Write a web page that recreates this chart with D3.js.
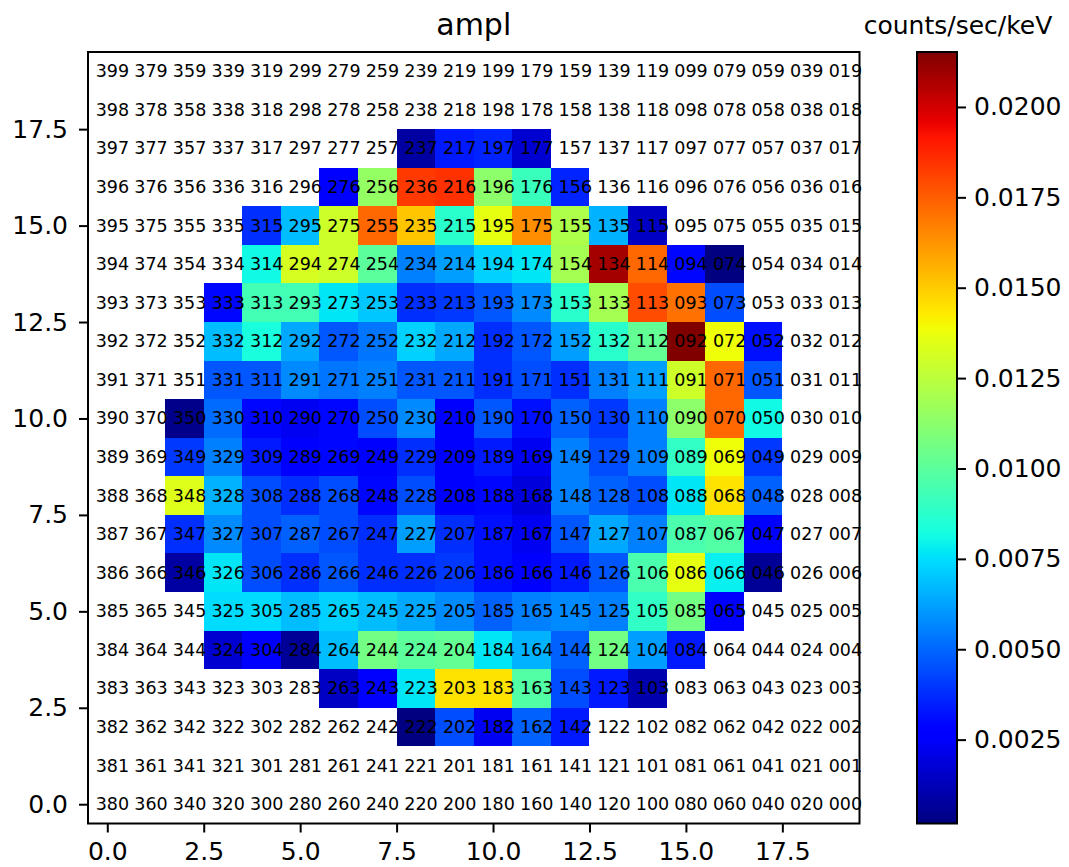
<!DOCTYPE html>
<html>
<head>
<meta charset="utf-8">
<script src="https://cdn.jsdelivr.net/npm/d3@7"></script>
<style>
  body { margin: 0; background: #fff; }
  svg { font-family: "DejaVu Sans", sans-serif; }
</style>
</head>
<body>
<svg id="chart" width="1069" height="867"></svg>
<script>
// pixel grid is 20 x 20, label = (19 - col) * 20 + row
const nPix = 20;

// rows that carry data (top to bottom), first filled column, and values (counts/sec/keV)
const rowIds = [17, 16, 15, 14, 13, 12, 11, 10, 9, 8, 7, 6, 5, 4, 3, 2];
const rowFirstCol = [8, 6, 4, 4, 3, 3, 3, 2, 2, 2, 2, 2, 3, 3, 6, 8];
const rowValues = [
    [0.00082, 0.00338, 0.00359, 0.00167],
    [0.00274, 0.01149, 0.01832, 0.01850, 0.01128, 0.00914, 0.00359],
    [0.00381, 0.00680, 0.01298, 0.01725, 0.01512, 0.00872, 0.01362, 0.01640, 0.01213, 0.00658, 0.00146],
    [0.00808, 0.01320, 0.01298, 0.01000, 0.00552, 0.00616, 0.00722, 0.00765, 0.01192, 0.02085, 0.01725, 0.00295, 0.00018],
    [0.00295, 0.00936, 0.00936, 0.00765, 0.00701, 0.00381, 0.00402, 0.00466, 0.00573, 0.00872, 0.01192, 0.01789, 0.01704, 0.00445],
    [0.00680, 0.00829, 0.00637, 0.00466, 0.00530, 0.00722, 0.00637, 0.00381, 0.00466, 0.00616, 0.00872, 0.01021, 0.02152, 0.01384, 0.00317],
    [0.00466, 0.00466, 0.00573, 0.00530, 0.00552, 0.00466, 0.00466, 0.00381, 0.00445, 0.00381, 0.00552, 0.00616, 0.01298, 0.01725, 0.00466],
    [0.00039, 0.00509, 0.00295, 0.00231, 0.00295, 0.00445, 0.00573, 0.00253, 0.00466, 0.00317, 0.00487, 0.00402, 0.00552, 0.01128, 0.01725, 0.00808],
    [0.00402, 0.00552, 0.00338, 0.00253, 0.00295, 0.00253, 0.00381, 0.00274, 0.00338, 0.00231, 0.00552, 0.00445, 0.00552, 0.00893, 0.01384, 0.00402],
    [0.01341, 0.00658, 0.00445, 0.00381, 0.00445, 0.00295, 0.00445, 0.00274, 0.00295, 0.00189, 0.00552, 0.00487, 0.00445, 0.00765, 0.01448, 0.00487],
    [0.00381, 0.00573, 0.00445, 0.00487, 0.00445, 0.00381, 0.00616, 0.00381, 0.00317, 0.00231, 0.00466, 0.00637, 0.00552, 0.00957, 0.00978, 0.00253],
    [0.00082, 0.00765, 0.00445, 0.00381, 0.00466, 0.00381, 0.00381, 0.00402, 0.00317, 0.00274, 0.00338, 0.00466, 0.00957, 0.01362, 0.00786, 0.00061],
    [0.00744, 0.00744, 0.00680, 0.00722, 0.00680, 0.00637, 0.00573, 0.00487, 0.00552, 0.00573, 0.00552, 0.00893, 0.01064, 0.00253],
    [0.00167, 0.00253, 0.00061, 0.00680, 0.01064, 0.01000, 0.01021, 0.00765, 0.00658, 0.00487, 0.01064, 0.00616, 0.00338],
    [0.00146, 0.00274, 0.00765, 0.01448, 0.01448, 0.00978, 0.00445, 0.00338, 0.00103],
    [0.00018, 0.00445, 0.00231, 0.00487, 0.00338]
];

const axisTicks = [0, 2.5, 5, 7.5, 10, 12.5, 15, 17.5];
const cbarTicks = [0.0025, 0.005, 0.0075, 0.01, 0.0125, 0.015, 0.0175, 0.02];

// matplotlib "jet" segment data
const jetR = [[0, 0], [0.35, 0], [0.66, 1], [0.89, 1], [1, 0.5]];
const jetG = [[0, 0], [0.125, 0], [0.375, 1], [0.64, 1], [0.91, 0], [1, 0]];
const jetB = [[0, 0.5], [0.11, 1], [0.34, 1], [0.65, 0], [1, 0]];

const chan = seg => d3.scaleLinear().domain(seg.map(d => d[0])).range(seg.map(d => d[1])).clamp(true);
const jr = chan(jetR), jg = chan(jetG), jb = chan(jetB);
const jet = t => d3.rgb(jr(t) * 255, jg(t) * 255, jb(t) * 255).formatHex();

const cells = [];
rowIds.forEach((row, i) => {
    rowValues[i].forEach((v, j) => cells.push({col: rowFirstCol[i] + j, row, value: v}));
});

const svg = d3.select('#chart');
const plotLeft = 88, plotTop = 52, size = 771.5;

const x = d3.scaleLinear().domain([-0.5, nPix - 0.5]).range([plotLeft, plotLeft + size]);
const y = d3.scaleLinear().domain([-0.5, nPix - 0.5]).range([plotTop + size, plotTop]);
const norm = d3.scaleLinear().domain(d3.extent(cells, d => d.value)).range([0, 1]);

svg.append('g')
    .selectAll('rect')
    .data(cells)
    .join('rect')
    .attr('x', d => x(d.col - 0.5))
    .attr('y', d => y(d.row + 0.5))
    .attr('width', x(1) - x(0))
    .attr('height', y(0) - y(1))
    .attr('fill', d => jet(norm(d.value)))
    .attr('shape-rendering', 'crispEdges');

// pixel number labels
const labels = [];
for (let c = 0; c < nPix; c++) {
    for (let r = 0; r < nPix; r++) {
        labels.push({col: c, row: r, text: String((nPix - 1 - c) * nPix + r).padStart(3, '0')});
    }
}
svg.append('g')
    .selectAll('text')
    .data(labels)
    .join('text')
    .attr('x', d => x(d.col - 0.3))
    .attr('y', d => y(d.row) + 6)
    .attr('font-size', 17.5)
    .attr('fill', '#000')
    .text(d => d.text);

// frame
svg.append('rect')
    .attr('x', plotLeft).attr('y', plotTop)
    .attr('width', size).attr('height', size)
    .attr('fill', 'none').attr('stroke', '#000').attr('stroke-width', 2);

function styleAxis(g) {
    g.select('.domain').remove();
    g.selectAll('.tick line').attr('stroke', '#000').attr('stroke-width', 2);
    g.selectAll('.tick text').attr('font-size', 25).attr('fill', '#000').attr('font-family', '"DejaVu Sans", sans-serif');
}

svg.append('g')
    .attr('transform', `translate(0,${plotTop + size})`)
    .call(d3.axisBottom(x).tickValues(axisTicks).tickFormat(d3.format('.1f')).tickSize(9).tickPadding(10))
    .call(styleAxis);

svg.append('g')
    .attr('transform', `translate(${plotLeft},0)`)
    .call(d3.axisLeft(y).tickValues(axisTicks).tickFormat(d3.format('.1f')).tickSize(9).tickPadding(11))
    .call(styleAxis);

svg.append('text')
    .attr('x', plotLeft + size / 2).attr('y', 35)
    .attr('text-anchor', 'middle').attr('font-size', 30)
    .text('ampl');

// colorbar
const cbX = 917, cbW = 40;
const cScale = d3.scaleLinear().domain(norm.domain()).range([plotTop + size, plotTop]);
const defs = svg.append('defs');
const grad = defs.append('linearGradient')
    .attr('id', 'jetGrad')
    .attr('x1', 0).attr('y1', 1).attr('x2', 0).attr('y2', 0);
grad.selectAll('stop')
    .data(d3.range(0, 1.0001, 0.01))
    .join('stop')
    .attr('offset', d => d)
    .attr('stop-color', d => jet(d));

svg.append('rect')
    .attr('x', cbX).attr('y', plotTop)
    .attr('width', cbW).attr('height', size)
    .attr('fill', 'url(#jetGrad)')
    .attr('stroke', '#000').attr('stroke-width', 2);

svg.append('g')
    .attr('transform', `translate(${cbX + cbW},0)`)
    .call(d3.axisRight(cScale).tickValues(cbarTicks).tickFormat(d3.format('.4f')).tickSize(9).tickPadding(8))
    .call(styleAxis);

svg.append('text')
    .attr('x', 958).attr('y', 34)
    .attr('text-anchor', 'middle').attr('font-size', 25)
    .text('counts/sec/keV');
</script>
</body>
</html>
